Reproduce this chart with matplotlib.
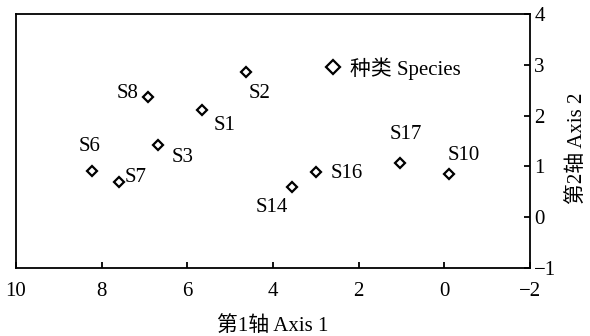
import numpy as np
import matplotlib
matplotlib.use('Agg')
import matplotlib.pyplot as plt

# font list: Times-like for latin, CJK for the Chinese chars
plt.rcParams['font.family'] = ['Liberation Serif', 'Noto Sans CJK SC']
plt.rcParams['axes.unicode_minus'] = True

# species scores
species = ['S8', 'S2', 'S1', 'S3', 'S6', 'S7', 'S14', 'S16', 'S17', 'S10']
axis1 = [6.91, 4.64, 5.65, 6.68, 8.23, 7.59, 3.55, 3.00, 1.03, -0.11]
axis2 = [2.36, 2.86, 2.11, 1.42, 0.91, 0.70, 0.60, 0.88, 1.07, 0.86]

x_ticks = [10, 8, 6, 4, 2, 0, -2]
y_ticks = [-1, 0, 1, 2, 3, 4]

# where each name sits relative to its point (pixels)
label_offset = {
    'S8': (-21, 4), 'S2': (14, -22), 'S1': (22, -15), 'S3': (24, -12),
    'S6': (-2, 24), 'S7': (16, 4), 'S14': (-20, -21), 'S16': (31, -1),
    'S17': (6, 28), 'S10': (15, 18),
}

fig = plt.figure(figsize=(5.9, 3.36), dpi=100)
ax = fig.add_axes([16 / 590, 1 - 268 / 336, 514 / 590, 254 / 336])

ax.plot(axis1, axis2, ls='none', marker='D', ms=5.2, mfc='white',
        mec='black', mew=1.6, label='种类 Species')

for name, x, y in zip(species, axis1, axis2):
    dx, dy = label_offset[name]
    ax.annotate(name, (x, y), xytext=(dx, dy), textcoords='offset pixels',
                ha='center', va='center', fontsize=15)

ax.set_xlim(10, -2)
ax.set_ylim(-1, 4)
ax.set_xticks(x_ticks)
ax.set_yticks(y_ticks)

for s in ax.spines.values():
    s.set_linewidth(1.3)

ax.yaxis.tick_right()
ax.tick_params(axis='x', direction='in', length=4, width=1.3, pad=10, labelsize=15)
ax.tick_params(axis='y', direction='in', length=4, width=1.3, pad=3, labelsize=15)

ax.set_xlabel('第1轴 Axis 1', fontsize=15, va='center')
ax.xaxis.set_label_coords(0.5, -0.228)
ax.set_ylabel('第2轴 Axis 2', fontsize=15, va='center', rotation=90)
ax.yaxis.set_label_position('right')
ax.yaxis.set_label_coords(1.072, 0.472)

ax.legend(loc='center left', bbox_to_anchor=(0.5965, 0.786), frameon=False,
          handlelength=1, handletextpad=0.32, borderpad=0, borderaxespad=0,
          fontsize=15, markerscale=1.3)

fig.savefig('out.png', dpi=100)
